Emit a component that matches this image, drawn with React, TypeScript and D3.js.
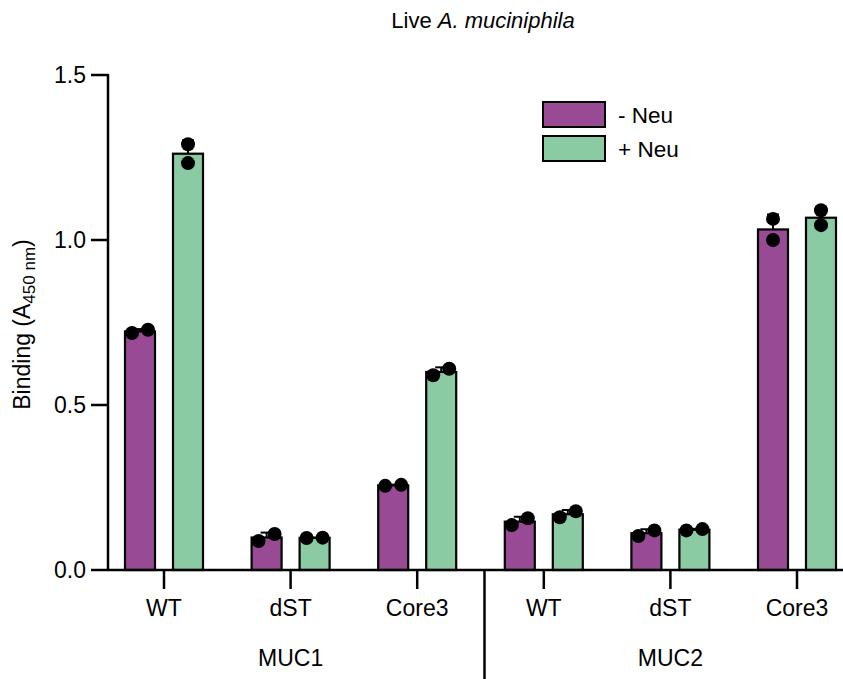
import React from "react";
import * as d3 from "d3";

const mucins = ["MUC1", "MUC2"];
const variants = ["WT", "dST", "Core3"];
const seriesNames = ["- Neu", "+ Neu"];
// replicate values per group (MUC1 WT, dST, Core3, MUC2 WT, dST, Core3)
const minusNeu = [
  [0.718, 0.728],
  [0.088, 0.109],
  [0.255, 0.258],
  [0.136, 0.157],
  [0.103, 0.12],
  [1.0, 1.064],
];
const plusNeu = [
  [1.233, 1.29],
  [0.097, 0.098],
  [0.59, 0.61],
  [0.16, 0.178],
  [0.12, 0.124],
  [1.045, 1.09],
];
const yTicks = [0, 0.5, 1.0, 1.5];
const colors = ["#994A94", "#8ACBA4"];

const W = 843;
const H = 679;
const axisX = 108;
const axisY = 570;
const topY = 75;
const FONT = "'Liberation Sans', Arial, sans-serif";

export default function App() {
  const groups: { key: string; mucin: string; variant: string }[] = [];
  mucins.forEach((m) => variants.forEach((v) => groups.push({ key: m + v, mucin: m, variant: v })));
  const y = d3.scaleLinear().domain([0, 1.5]).range([axisY, topY]);
  const x0 = d3.scaleBand().domain(groups.map((g) => g.key)).range([100.7, 860.3]);
  const x1 = d3.scaleBand().domain(seriesNames).range([-39, 39]).paddingInner(0.375).paddingOuter(0);
  const r = 7;
  const seriesData = [minusNeu, plusNeu];

  const bars: React.ReactNode[] = [];
  const errs: React.ReactNode[] = [];
  const pts: React.ReactNode[] = [];
  groups.forEach((g, gi) => {
    const cx = (x0(g.key) as number) + x0.bandwidth() / 2;
    seriesNames.forEach((s, si) => {
      const vals = seriesData[si][gi];
      const mean = d3.mean(vals) as number;
      const sd = d3.deviation(vals) as number;
      const bx = cx + (x1(s) as number);
      const bw = x1.bandwidth();
      const bc = bx + bw / 2;
      bars.push(
        <rect key={`b${gi}${si}`} x={bx} y={y(mean)} width={bw} height={axisY - y(mean)}
          fill={colors[si]} stroke="#000" strokeWidth={2.2} />
      );
      const ye = y(mean + sd);
      errs.push(
        <g key={`e${gi}${si}`} stroke="#000" strokeWidth={2}>
          <line x1={bc} x2={bc} y1={y(mean)} y2={ye} />
          <line x1={bc - 6} x2={bc + 6} y1={ye} y2={ye} />
        </g>
      );
      const overlap = Math.abs(y(vals[0]) - y(vals[1])) < 2 * r;
      vals.forEach((v, vi) => {
        const off = overlap ? (vi === 0 ? -8 : 8) : 0;
        pts.push(<circle key={`p${gi}${si}${vi}`} cx={bc + off} cy={y(v)} r={r} fill="#000" />);
      });
    });
  });

  const sepX = (x0(groups[3].key) as number) + 4;

  return (
    <svg width={W} height={H} style={{ position: "absolute", left: 0, top: 0 }} fontFamily={FONT}>
      <rect width={W} height={H} fill="#fff" />
      <text x={483} y={20} dy="0.36em" textAnchor="middle" fontSize={22}>
        Live <tspan fontStyle="italic">A. muciniphila</tspan>
      </text>
      {bars}
      {errs}
      {pts}
      {/* y axis */}
      <line x1={axisX} x2={axisX} y1={topY - 1} y2={axisY + 1} stroke="#000" strokeWidth={2.5} />
      {yTicks.map((t) => (
        <g key={t}>
          <line x1={axisX - 17} x2={axisX} y1={y(t)} y2={y(t)} stroke="#000" strokeWidth={2.5} />
          <text x={axisX - 22} y={y(t)} dy="0.36em" textAnchor="end" fontSize={23}>
            {d3.format(".1f")(t)}
          </text>
        </g>
      ))}
      {/* x axis */}
      <line x1={axisX} x2={W} y1={axisY} y2={axisY} stroke="#000" strokeWidth={2.5} />
      {groups.map((g) => {
        const cx = (x0(g.key) as number) + x0.bandwidth() / 2;
        return (
          <g key={g.key}>
            <line x1={cx} x2={cx} y1={axisY} y2={axisY + 19} stroke="#000" strokeWidth={2.5} />
            <text x={cx} y={608} dy="0.36em" textAnchor="middle" fontSize={23}>{g.variant}</text>
          </g>
        );
      })}
      {mucins.map((m, mi) => {
        const cx = (x0(groups[mi * 3 + 1].key) as number) + x0.bandwidth() / 2;
        return (
          <text key={m} x={cx} y={658} dy="0.36em" textAnchor="middle" fontSize={23}>{m}</text>
        );
      })}
      <line x1={sepX} x2={sepX} y1={axisY} y2={H} stroke="#000" strokeWidth={2.5} />
      {/* y title */}
      <text transform={`translate(30,${(topY + axisY) / 2 + 2}) rotate(-90)`} textAnchor="middle" fontSize={23}>
        Binding (A<tspan fontSize={17} dy={5}>450 nm</tspan><tspan dy={-5}>)</tspan>
      </text>
      {/* legend */}
      {seriesNames.map((s, i) => (
        <g key={s} transform={`translate(543,${102 + i * 34})`}>
          <rect width={62} height={25} fill={colors[i]} stroke="#000" strokeWidth={2} />
          <text x={75} y={12.5} dy="0.36em" fontSize={22.5}>{s}</text>
        </g>
      ))}
    </svg>
  );
}
